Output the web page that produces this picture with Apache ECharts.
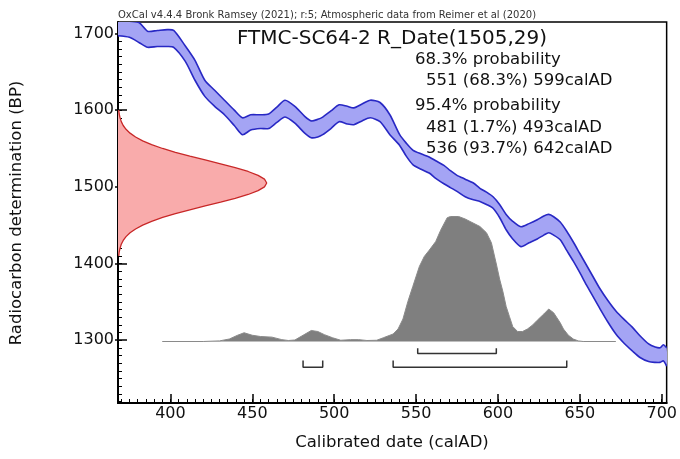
<!DOCTYPE html>
<html>
<head>
<meta charset="utf-8">
<title>FTMC-SC64-2 R_Date(1505,29)</title>
<script src="https://cdn.jsdelivr.net/npm/echarts@6/dist/echarts.min.js"></script>
<style>
  html, body { margin: 0; padding: 0; background: #fff; }
  #chart { width: 680px; height: 459px; }
</style>
</head>
<body>
<div id="chart"></div>
<script>
// Calibration curve band (calAD, upper and lower 1-sigma edge, BP)
const bandYears = [368, 375, 381, 386, 392, 398, 402, 409, 415, 421, 427, 433, 439, 444, 449, 455, 460, 465, 470, 476,
  482, 486, 490, 493, 498, 503, 508, 512, 517, 522, 528, 534, 540, 544, 548, 553, 558, 562, 567, 571,
  575, 580, 585, 589, 593, 597, 601, 605, 609, 614, 619, 624, 628, 631, 634, 638, 642, 646, 650, 654,
  658, 662, 667, 672, 677, 682, 687, 692, 696, 699, 701, 703];
const bandUpper = [1718, 1716, 1714, 1703, 1704, 1705, 1704, 1684, 1665, 1639, 1626, 1613, 1600, 1590, 1594, 1594, 1595, 1604, 1613, 1605,
  1592, 1586, 1588, 1591, 1599, 1607, 1605, 1603, 1608, 1613, 1610, 1594, 1568, 1557, 1548, 1543, 1539, 1534, 1528, 1521,
  1515, 1510, 1505, 1498, 1493, 1487, 1477, 1464, 1455, 1448, 1452, 1457, 1462, 1464, 1461, 1454, 1442, 1428, 1413, 1398,
  1383, 1368, 1352, 1338, 1327, 1317, 1305, 1295, 1291, 1290, 1294, 1290];
const bandLower = [1697, 1695, 1688, 1682, 1683, 1683, 1682, 1664, 1639, 1618, 1605, 1594, 1580, 1568, 1574, 1576, 1576, 1584, 1591, 1583,
  1570, 1564, 1565, 1568, 1576, 1585, 1582, 1581, 1586, 1590, 1585, 1568, 1554, 1540, 1529, 1523, 1518, 1511, 1504, 1499,
  1494, 1487, 1483, 1481, 1477, 1472, 1460, 1444, 1432, 1422, 1427, 1432, 1437, 1440, 1437, 1431, 1417, 1403, 1388, 1372,
  1357, 1342, 1324, 1308, 1296, 1286, 1277, 1272, 1271, 1271, 1273, 1266];

// Radiocarbon measurement 1505 ± 29 BP: relative likelihood
const measBP = [1600, 1595, 1590, 1585, 1580, 1575, 1570, 1565, 1560, 1555, 1550, 1545, 1540, 1535, 1530, 1525, 1520, 1515, 1510, 1505,
  1500, 1495, 1490, 1485, 1480, 1475, 1470, 1465, 1460, 1455, 1450, 1445, 1440, 1435, 1430, 1425, 1420, 1415, 1410];
const measProb = [0.005, 0.008, 0.014, 0.022, 0.035, 0.054, 0.081, 0.118, 0.166, 0.226, 0.300, 0.386, 0.483, 0.586, 0.690, 0.788, 0.875, 0.942, 0.985, 1.000,
  0.985, 0.942, 0.875, 0.788, 0.690, 0.586, 0.483, 0.386, 0.300, 0.226, 0.166, 0.118, 0.081, 0.054, 0.035, 0.022, 0.014, 0.008, 0.005];

// Calibrated probability distribution (calAD, % of maximum)
const calYears = [395, 420, 430, 436, 441, 445, 450, 455, 462, 468, 472, 476, 481, 486, 490, 494, 499, 504, 510, 515,
  520, 526, 530, 534, 536, 539, 542, 545, 548, 552, 555, 558, 562, 565, 569, 571, 576, 580, 583, 589,
  593, 596, 599, 601, 603, 605, 607, 609, 612, 615, 618, 621, 624, 628, 631, 634, 636, 638, 640, 643,
  646, 649, 652, 672];
const calProb = [0, 0, 0.5, 2, 5, 7, 5, 4, 3.5, 1.5, 0.8, 1.2, 5, 8.8, 8, 5.5, 3, 1, 1.5, 1.5,
  0.8, 1, 3, 5, 6, 10, 18, 32, 44, 60, 68, 73, 80, 89, 99, 100, 100, 98, 96, 92,
  87, 79, 62, 50, 40, 28, 20, 12, 8, 8, 10, 13, 17, 22, 26, 23, 19, 15, 10, 5,
  2, 0.5, 0, 0];

// Highest probability ranges (calAD)
const range68 = [[551, 599]];
const range95 = [[481, 493], [536, 642]];

// Axis ticks
const xTicks = [400, 450, 500, 550, 600, 650, 700];
const yTicks = [1300, 1400, 1500, 1600, 1700];

const headerText = 'OxCal v4.4.4 Bronk Ramsey (2021); r:5; Atmospheric data from Reimer et al (2020)';
const titleText = 'FTMC-SC64-2 R_Date(1505,29)';
const summaryLines = [
  ['68.3% probability', 0],
  ['551 (68.3%) 599calAD', 1],
  ['95.4% probability', 0],
  ['481 (1.7%) 493calAD', 1],
  ['536 (93.7%) 642calAD', 1]
];

const X_MIN = 368, X_MAX = 703, Y_MIN = 1218, Y_MAX = 1715;
const FONT = '"DejaVu Sans", sans-serif';
const CURVE_SMOOTH = 0.25;

const xMinor = [];
for (let v = 370; v <= 700; v += 5) xMinor.push(v);
const yMinor = [];
for (let v = 1220; v <= 1710; v += 10) yMinor.push(v);

const chart = echarts.init(document.getElementById('chart'), null, { renderer: 'canvas' });

function bracketData(ranges, barY, topY) {
  const d = [];
  ranges.forEach(function (r, i) {
    if (i > 0) d.push(['-', '-']);
    d.push([r[0], topY], [r[0], barY], [r[1], barY], [r[1], topY]);
  });
  return d;
}

const hiddenX = { type: 'value', show: false, axisLine: { onZero: false } };
const hiddenY = { type: 'value', show: false, axisLine: { onZero: false } };

const option = {
  animation: false,
  backgroundColor: '#fff',
  grid: { left: 118, right: 13, top: 22, bottom: 56, show: true, borderColor: '#000', borderWidth: 1.5, backgroundColor: 'transparent' },
  xAxis: [
    {
      type: 'value', min: X_MIN, max: X_MAX, position: 'bottom',
      axisLine: { onZero: false, lineStyle: { color: '#000', width: 2 } },
      axisTick: { customValues: xTicks, inside: true, length: 9, lineStyle: { color: '#000', width: 1.5 } },
      axisLabel: { customValues: xTicks, color: '#111', fontSize: 16, fontFamily: FONT, margin: 3, formatter: function (v) { return String(v); } },
      splitLine: { show: false }
    },
    {
      type: 'value', min: X_MIN, max: X_MAX, position: 'bottom',
      axisLine: { show: false, onZero: false },
      axisTick: { customValues: xMinor, inside: true, length: 4, lineStyle: { color: '#000', width: 1 } },
      axisLabel: { show: false },
      splitLine: { show: false }
    },
    Object.assign({ min: 0, max: 3.689 }, hiddenX)
  ],
  yAxis: [
    {
      type: 'value', min: Y_MIN, max: Y_MAX, position: 'left',
      axisLine: { onZero: false, lineStyle: { color: '#000', width: 2 } },
      axisTick: { customValues: yTicks, inside: true, length: 9, lineStyle: { color: '#000', width: 1.5 } },
      axisLabel: { customValues: yTicks, color: '#111', fontSize: 16, fontFamily: FONT, margin: 4, formatter: function (v) { return String(v); } },
      splitLine: { show: false }
    },
    {
      type: 'value', min: Y_MIN, max: Y_MAX, position: 'left',
      axisLine: { show: false, onZero: false },
      axisTick: { customValues: yMinor, inside: true, length: 4, lineStyle: { color: '#000', width: 1 } },
      axisLabel: { show: false },
      splitLine: { show: false }
    },
    {
      type: 'value', min: Y_MIN, max: Y_MAX, position: 'left',
      axisLine: { show: false, onZero: false },
      axisTick: { customValues: yTicks, inside: false, length: 3, lineStyle: { color: '#000', width: 1.5 } },
      axisLabel: { show: false },
      splitLine: { show: false }
    },
    Object.assign({ min: -49.2, max: 255.6 }, hiddenY)
  ],
  series: [
    {
      // calibration curve: shaded band with its two edges
      type: 'custom', xAxisIndex: 0, yAxisIndex: 0, clip: true, silent: true, z: 2,
      data: bandYears.map(function (y, i) { return [y, bandUpper[i], bandLower[i]]; }),
      renderItem: function (params, api) {
        if (params.dataIndex !== 0) return null;
        const up = bandYears.map(function (y, i) { return api.coord([y, bandUpper[i]]); });
        const lo = bandYears.map(function (y, i) { return api.coord([y, bandLower[i]]); });
        const poly = up.concat(lo.slice().reverse());
        const edge = { fill: null, stroke: '#2828c4', lineWidth: 1.6 };
        return {
          type: 'group',
          children: [
            { type: 'polygon', shape: { points: poly, smooth: CURVE_SMOOTH }, style: { fill: '#a4a4f4' } },
            { type: 'polyline', shape: { points: up, smooth: CURVE_SMOOTH }, style: edge },
            { type: 'polyline', shape: { points: lo, smooth: CURVE_SMOOTH }, style: edge }
          ]
        };
      }
    },
    {
      // measurement likelihood along the BP axis
      type: 'custom', xAxisIndex: 2, yAxisIndex: 0, clip: true, silent: true, z: 2,
      data: measBP.map(function (b, i) { return [measProb[i], b]; }),
      renderItem: function (params, api) {
        if (params.dataIndex !== 0) return null;
        const pts = [api.coord([0, measBP[0]])];
        for (let i = 0; i < measBP.length; i++) pts.push(api.coord([measProb[i], measBP[i]]));
        pts.push(api.coord([0, measBP[measBP.length - 1]]));
        return { type: 'polygon', shape: { points: pts }, style: { fill: '#f9abab' } };
      }
    },
    {
      type: 'line', xAxisIndex: 2, yAxisIndex: 0, showSymbol: false, silent: true, z: 3,
      data: measBP.map(function (b, i) { return [measProb[i], b]; }),
      lineStyle: { color: '#c82828', width: 1.3 }
    },
    {
      // calibrated date distribution
      type: 'line', xAxisIndex: 0, yAxisIndex: 3, showSymbol: false, silent: true, z: 2,
      data: calYears.map(function (y, i) { return [y, calProb[i]]; }),
      lineStyle: { color: '#8a8a8a', width: 1 },
      areaStyle: { color: '#7f7f7f', opacity: 1 }
    },
    {
      type: 'line', xAxisIndex: 0, yAxisIndex: 0, showSymbol: false, silent: true, z: 3,
      connectNulls: false,
      data: bracketData(range68, 1282.7, 1289.5),
      lineStyle: { color: '#333', width: 1.5 }
    },
    {
      type: 'line', xAxisIndex: 0, yAxisIndex: 0, showSymbol: false, silent: true, z: 3,
      connectNulls: false,
      data: bracketData(range95, 1264.5, 1273.5),
      lineStyle: { color: '#333', width: 1.5 }
    }
  ],
  graphic: [
    { type: 'text', x: 118, y: 15, style: { text: headerText, fontSize: 10, fontFamily: FONT, fill: '#333', align: 'left', verticalAlign: 'middle' } },
    { type: 'text', x: 392, y: 39, style: { text: titleText, fontSize: 20, fontFamily: FONT, fill: '#111', align: 'center', verticalAlign: 'middle' } },
    { type: 'text', x: 392, y: 443, style: { text: 'Calibrated date (calAD)', fontSize: 16.5, fontFamily: FONT, fill: '#111', align: 'center', verticalAlign: 'middle' } },
    { type: 'text', x: 17, y: 213, rotation: Math.PI / 2, style: { text: 'Radiocarbon determination (BP)', fontSize: 16.5, fontFamily: FONT, fill: '#111', align: 'center', verticalAlign: 'middle' } }
  ].concat(summaryLines.map(function (l, i) {
    const ys = [60, 81, 106, 128, 149];
    return { type: 'text', x: l[1] ? 426 : 415, y: ys[i], style: { text: l[0], fontSize: 16.5, fontFamily: FONT, fill: '#111', align: 'left', verticalAlign: 'middle' } };
  }))
};

chart.setOption(option);
</script>
</body>
</html>
